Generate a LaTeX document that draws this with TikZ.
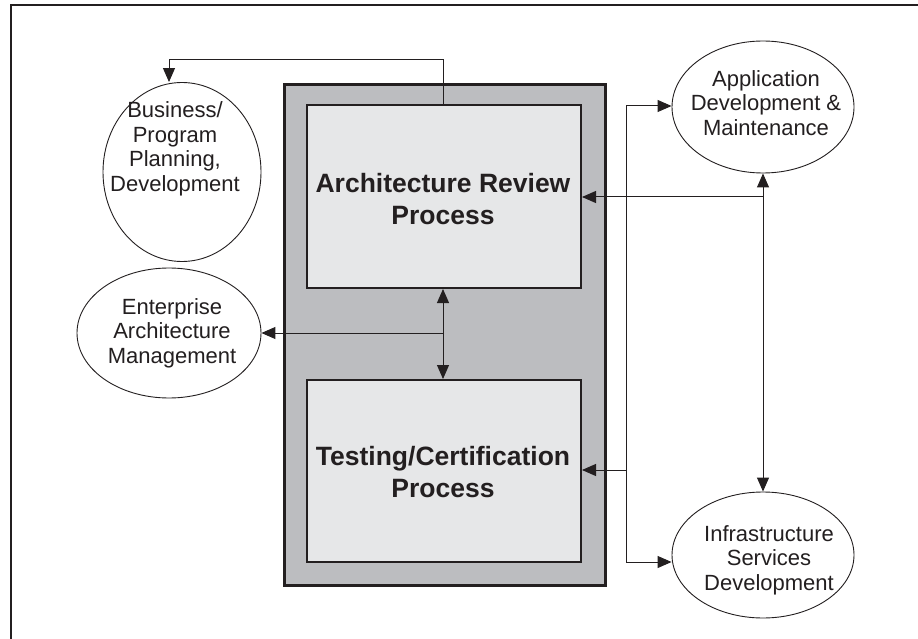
\documentclass[tikz,border=0pt]{standalone}
\usepackage{fontspec}
\setmainfont{Liberation Sans}
\usetikzlibrary{shapes.geometric,arrows.meta}
\definecolor{ink}{HTML}{231F20}
\definecolor{outergray}{HTML}{BCBDC0}
\definecolor{innergray}{HTML}{E6E7E8}
\begin{document}
\begin{tikzpicture}[x=1pt,y=-1pt,
  oval/.style={draw=ink,line width=0.9pt,ellipse,inner sep=0pt,fill=white},
  ovaltext/.style={align=center,inner sep=0pt,font=\fontsize{22}{24.5}\selectfont,text=ink},
  procbox/.style={draw=ink,line width=2pt,fill=innergray,inner sep=0pt,anchor=north west},
  proctext/.style={align=center,inner sep=0pt,font=\fontsize{26.5}{32}\selectfont\bfseries,text=ink},
  conn/.style={draw=ink,line width=1pt},
  tip/.style={-{Triangle[length=14pt,width=12pt]}},
  dtip/.style={{Triangle[length=14pt,width=12pt]}-{Triangle[length=14pt,width=12pt]}}
]
\useasboundingbox (0,0) rectangle (918,639);
\draw[ink,line width=2pt] (11,640) -- (11,5) -- (919,5);

% outer gray container
\node[draw=ink,line width=3pt,fill=outergray,inner sep=0pt,anchor=north west,
      minimum width=321pt,minimum height=501pt] (outer) at (282.5,83) {};
% process boxes
\node[procbox,minimum width=274pt,minimum height=183pt] (arch) at (306,104) {};
\node[proctext] (archtxt) at (443,199) {Architecture Review\\Process};
\node[procbox,minimum width=274pt,minimum height=182pt] (test) at (306,379) {};
\node[proctext] (testtxt) at (443,472) {Testing/Certification\\Process};

% ellipses
\node[oval,minimum width=158pt,minimum height=179pt] (bus) at (182,172) {};
\node[ovaltext] (bustxt) at (175,149) {Business/\\Program\\Planning,\\Development};
\node[oval,minimum width=184pt,minimum height=130pt] (ent) at (169,333) {};
\node[ovaltext] (enttxt) at (172,333) {Enterprise\\Architecture\\Management};
\node[oval,minimum width=182pt,minimum height=132pt] (app) at (763,107) {};
\node[ovaltext] (apptxt) at (766,103) {Application\\Development \&\\Maintenance};
\node[oval,minimum width=182pt,minimum height=126pt] (inf) at (763,555) {};
\node[ovaltext] (inftxt) at (769,560) {Infrastructure\\Services\\Development};

% bend points
\coordinate (topR) at (443,60);
\coordinate (topL) at (169,60);
\coordinate (midJ) at (443,333);
\coordinate (busR) at (626,106);
\coordinate (busTest) at (626,470);
\coordinate (busInf) at (626,562);
\coordinate (vJ) at (763,197);

% Architecture -> Business
\draw[conn,tip] (arch.north -| topR) -- (topR) -- (topL) -- (bus.north -| topL);
% Architecture <-> Testing
\draw[conn,dtip] (arch.south -| midJ) -- (test.north -| midJ);
% -> Enterprise
\draw[conn,tip] (midJ) -- (ent.east |- midJ);
% right-hand bus
\draw[conn] (busR) -- (busInf);
\draw[conn,tip] (busR) -- (app.west |- busR);
\draw[conn,tip] (busInf) -- (inf.west |- busInf);
\draw[conn,tip] (busTest) -- (test.east |- busTest);
% Application <-> Infrastructure
\draw[conn,dtip] (app.south) -- (inf.north);
\draw[conn,tip] (vJ) -- (arch.east |- vJ);
\end{tikzpicture}
\end{document}
